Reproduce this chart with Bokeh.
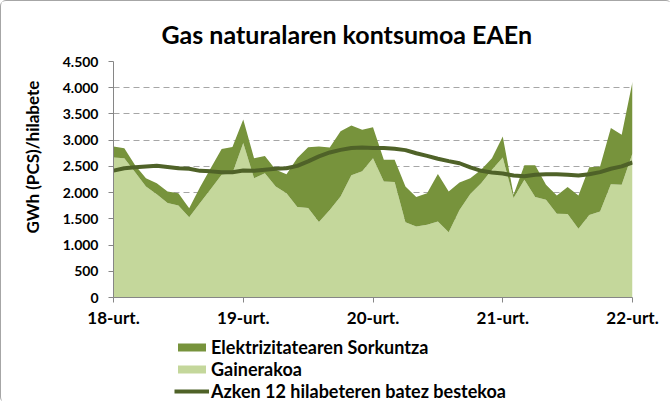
from bokeh.plotting import figure
from bokeh.layouts import column
from bokeh.models import (Legend, LegendItem, Title, FixedTicker, ColumnDataSource, Range1d)
from bokeh.embed import file_html
from bokeh.resources import INLINE

title_text = "Gas naturalaren kontsumoa EAEn"
y_title = "GWh (PCS)/hilabete"
series_names = ["Elektrizitatearen Sorkuntza", "Gainerakoa",
                "Azken 12 hilabeteren batez bestekoa"]
x_tick_pos = [0, 12, 24, 36, 48]
x_tick_labels = ["18-urt.", "19-urt.", "20-urt.", "21-urt.", "22-urt."]
y_ticks = [0, 500, 1000, 1500, 2000, 2500, 3000, 3500, 4000, 4500]
y_tick_labels = ["0", "500", "1.000", "1.500", "2.000", "2.500", "3.000",
                 "3.500", "4.000", "4.500"]

gainerakoa = [2670, 2655, 2390, 2115, 1970, 1800, 1755, 1530, 1800, 2070,
              2340, 2370, 2945, 2275, 2370, 2115, 1990, 1725, 1705, 1440,
              1670, 1925, 2330, 2405, 2655, 2210, 2200, 1435, 1355, 1385,
              1450, 1245, 1670, 1975, 2180, 2435, 2670, 1895, 2245, 1915,
              1865, 1595, 1590, 1310, 1575, 1640, 2160, 2150, 2750]
elektrizitatea = [210, 190, 130, 160, 210, 220, 235, 170, 300, 400,
                  490, 500, 450, 380, 330, 320, 360, 935, 1160, 1440,
                  1190, 1245, 950, 795, 590, 415, 425, 680, 560, 605,
                  905, 775, 525, 300, 255, 220, 400, 65, 275, 605,
                  285, 350, 515, 635, 910, 860, 1070, 955, 1365]
batez_bestekoa = [2420, 2465, 2485, 2500, 2510, 2490, 2465, 2455, 2415, 2405,
                  2390, 2390, 2420, 2415, 2435, 2455, 2465, 2510, 2595, 2690,
                  2765, 2815, 2850, 2860, 2850, 2850, 2835, 2810, 2750, 2700,
                  2645, 2600, 2560, 2480, 2415, 2385, 2365, 2325, 2310, 2340,
                  2350, 2350, 2340, 2325, 2350, 2390, 2455, 2500, 2575]

FONT = "Lato"
C_LIGHT, C_DARK, C_LINE = "#c4d79b", "#77933c", "#4f6228"

x = list(range(len(gainerakoa)))
src = ColumnDataSource(dict(x=x, gain=gainerakoa, elek=elektrizitatea, avg=batez_bestekoa))

p = figure(width=670, height=330, output_backend="svg", toolbar_location=None,
           x_range=Range1d(x[0], x[-1]), y_range=Range1d(y_ticks[0], y_ticks[-1]),
           min_border_left=112, min_border_right=39, min_border_top=60,
           min_border_bottom=34)
p.outline_line_color = None
p.background_fill_color = "white"
p.border_fill_color = "white"

rs = p.varea_stack(stackers=["gain", "elek"], x="x", source=src,
                   color=[C_LIGHT, C_DARK])
rl = p.line("x", "avg", source=src, line_color=C_LINE, line_width=4)

# title
p.title.text = title_text
p.title.align = "left"
p.title.offset = 48
p.title.text_font = FONT
p.title.text_font_size = "25px"
p.title.text_font_style = "bold"
p.title.text_color = "black"
p.title.standoff = 26

# grid
p.xgrid.visible = False
p.ygrid.ticker = FixedTicker(ticks=y_ticks[1:])
p.ygrid.grid_line_color = "#a6a6a6"
p.ygrid.grid_line_dash = "6 4"
p.ygrid.grid_line_width = 1

# axes
for ax in (p.xaxis[0], p.yaxis[0]):
    ax.axis_line_color = "#868686"
    ax.major_tick_line_color = "#868686"
    ax.major_tick_out = 5
    ax.major_tick_in = 0
    ax.minor_tick_line_color = None
    ax.major_label_text_font = FONT
    ax.major_label_text_font_style = "bold"
    ax.major_label_text_color = "black"

p.yaxis.ticker = FixedTicker(ticks=y_ticks)
p.yaxis.major_label_overrides = dict(zip(y_ticks, y_tick_labels))
p.yaxis.major_label_standoff = 10
p.yaxis.major_label_text_font_size = "14px"
p.xaxis.ticker = FixedTicker(ticks=x_tick_pos)
p.xaxis.major_label_overrides = dict(zip(x_tick_pos, x_tick_labels))
p.xaxis.major_label_standoff = 4
p.xaxis.major_label_text_font_size = "17px"

# y axis title (side title, started near the bottom of the frame)
ytitle = Title(text=y_title, align="left", offset=64, standoff=33,
               text_font=FONT, text_font_style="bold", text_font_size="17px",
               text_color="black")
p.add_layout(ytitle, "left")

# legend strip below the chart
lf = figure(width=670, height=71, output_backend="svg", toolbar_location=None,
            x_range=Range1d(0, 1), y_range=Range1d(0, 1),
            x_axis_location=None, y_axis_location=None, min_border=0)
lf.outline_line_color = None
lf.grid.visible = False
lf.border_fill_color = "white"
g_dark = lf.varea(x=[0], y1=[0], y2=[0], color=C_DARK)
g_light = lf.varea(x=[0], y1=[0], y2=[0], color=C_LIGHT)
g_line = lf.line(x=[0], y=[0], line_color=C_LINE, line_width=4)

legend = Legend(items=[LegendItem(label=series_names[0], renderers=[g_dark]),
                       LegendItem(label=series_names[1], renderers=[g_light]),
                       LegendItem(label=series_names[2], renderers=[g_line])],
                location=(61, 0), orientation="vertical",
                glyph_width=35, glyph_height=10, label_height=20, spacing=0,
                padding=0, margin=0, label_standoff=2,
                label_text_font=FONT, label_text_font_style="bold",
                label_text_font_size="18px", label_text_color="black",
                border_line_color=None, background_fill_alpha=0)
lf.add_layout(legend)

layout = column(p, lf, spacing=0,
                styles={"border": "1px solid #a6a6a6", "border-radius": "6px"})

open("out.html", "w").write(file_html(layout, INLINE))
